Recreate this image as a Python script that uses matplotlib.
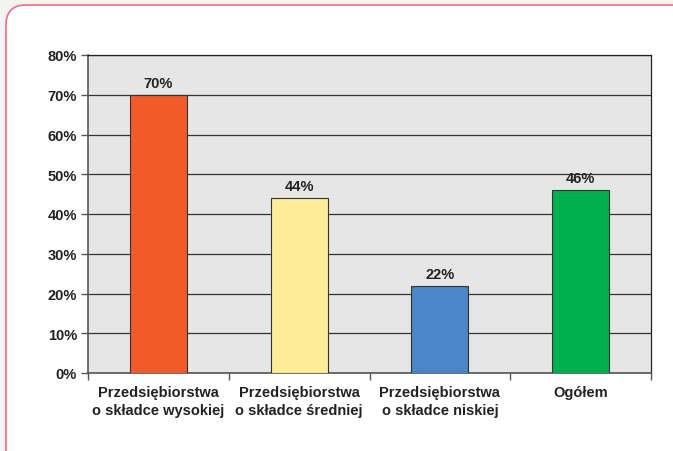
import matplotlib.pyplot as plt
from matplotlib.patches import FancyBboxPatch
from matplotlib.transforms import IdentityTransform
from matplotlib.ticker import FuncFormatter

categories = [
    'Przedsiębiorstwa\no składce wysokiej',
    'Przedsiębiorstwa\no składce średniej',
    'Przedsiębiorstwa\no składce niskiej',
    'Ogółem',
]
values = [70, 44, 22, 46]
colors = ['#f15a29', '#fdec98', '#4a86c8', '#00b04f']

plt.rcParams['font.family'] = ['Liberation Sans', 'DejaVu Sans']
plt.rcParams['font.weight'] = 'bold'

fig = plt.figure(figsize=(6.73, 4.52), dpi=100)
fig.patch.set_facecolor('#f4f4f4')

# rounded white panel with a pink border (pixel coords)
panel = FancyBboxPatch((6, -40), 720, 486,
                       boxstyle='round,pad=0,rounding_size=20',
                       transform=IdentityTransform(), facecolor='white',
                       edgecolor='#f26b7a', linewidth=1.2, zorder=-1)
fig.patches.append(panel)

ax = fig.add_axes([88 / 673, 78 / 452, 563 / 673, 318 / 452])
ax.set_facecolor('#e6e6e6')

x = range(len(categories))
bars = ax.bar(x, values, width=0.405, color=colors, edgecolor='#333333',
              linewidth=0.8, zorder=3)
for b, v in zip(bars, values):
    ax.text(b.get_x() + b.get_width() / 2, v + 1.2, f'{v}%', ha='center',
            va='bottom', fontsize=10.5, fontweight='bold', color='#222222')

ax.set_ylim(0, 80)
ax.set_xlim(-0.5, len(categories) - 0.5)
ax.set_yticks(range(0, 81, 10))
ax.yaxis.set_major_formatter(FuncFormatter(lambda v, p: f'{v:.0f}%'))
ax.yaxis.grid(True, color='#333333', linewidth=0.9, zorder=1)
ax.set_axisbelow(True)

ax.set_xticks(list(x))
ax.set_xticklabels(categories, fontsize=10.5, fontweight='bold', color='#222222',
                   linespacing=1.3)
ax.set_xticks([i + 0.5 for i in range(-1, len(categories))], minor=True)
ax.tick_params(axis='x', which='major', length=0, pad=9)
ax.tick_params(axis='x', which='minor', length=5, color='#555555', width=1)
ax.tick_params(axis='y', length=5, color='#555555', width=1, labelsize=10.5,
               labelcolor='#222222', pad=3)

for s in ['left', 'bottom']:
    ax.spines[s].set_color('#555555')
    ax.spines[s].set_linewidth(1.2)
for s in ['top', 'right']:
    ax.spines[s].set_color('#222222')
    ax.spines[s].set_linewidth(0.9)

fig.savefig('out.png', dpi=100, facecolor=fig.get_facecolor())
